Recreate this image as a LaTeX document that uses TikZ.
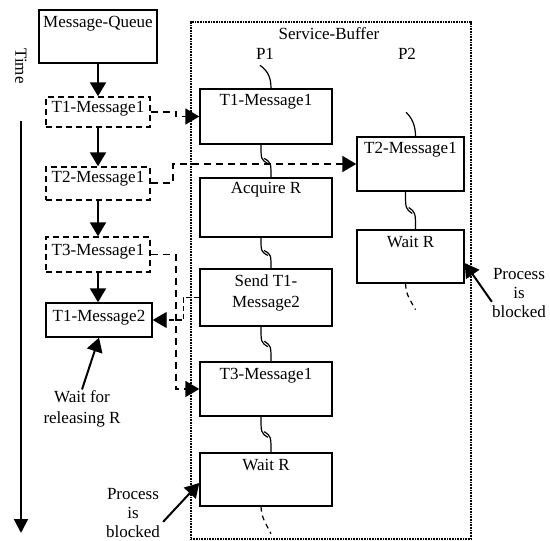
\documentclass[tikz,border=0pt]{standalone}
\usepackage{fontspec}
\setmainfont{Liberation Serif}
\usetikzlibrary{arrows.meta,calc}

% broken lifeline link between two consecutive process boxes
\newcommand\brklink[2]{%
  \coordinate (bkA) at ($(#1.south)+(-5,0)$);
  \coordinate (bkB) at ($(#2.north)+(5,0)$);
  \draw[link] (bkA) .. controls ($(bkA)!0.45!(bkA|-bkB)$) .. ($(bkA)!0.58!(bkB)+(1,0)$);
  \draw[link] ($(bkA)!0.42!(bkB)+(-1,0)$) .. controls ($(bkB)!0.45!(bkB|-bkA)$) .. (bkB);}

\begin{document}
\begin{tikzpicture}[x=1pt,y=-1pt,
  every node/.style={font=\fontsize{17}{21}\selectfont},
  box/.style={draw,line width=1.4pt,inner sep=0pt},
  dbox/.style={draw,line width=1.4pt,dash pattern=on 6pt off 4pt,inner sep=0pt},
  capt/.style={anchor=north,inner sep=0pt,align=center},
  tip/.style={-{Triangle[length=14pt,width=16pt]}},
  flow/.style={line width=2pt,tip},
  dflow/.style={line width=1.8pt,dash pattern=on 7pt off 5pt,tip},
  dflowthin/.style={line width=1.2pt,dash pattern=on 5pt off 3pt,tip},
  link/.style={line width=1.2pt},
  txt/.style={align=center,inner sep=1pt}
]
\useasboundingbox (0,0) rectangle (550,541);

% time axis
\node[rotate=-90,inner sep=0pt] (time) at (21,66) {Time};
\coordinate (tA) at (21,121);
\coordinate (tB) at (21,533);
\draw[line width=2pt,-{Triangle[length=14pt,width=14pt]}] (tA) -- (tB);

% message queue column
\node[box,minimum width=118,minimum height=53] (mq) at (98,36.5) {};
\node[capt] (tmq) at ($(mq.north)+(0,7)$) {Message-Queue};
\node[dbox,minimum width=104,minimum height=30] (l1) at (98,112) {};
\node[capt] (tl1) at ($(l1.north)+(0,4.5)$) {T1-Message1};
\node[dbox,minimum width=104,minimum height=33] (l2) at (98,183.5) {};
\node[capt] (tl2) at ($(l2.north)+(0,5)$) {T2-Message1};
\node[dbox,minimum width=104,minimum height=35] (l3) at (98,254.5) {};
\node[capt] (tl3) at ($(l3.north)+(0,8)$) {T3-Message1};
\node[box,minimum width=106,minimum height=34] (l4) at (99,320) {};
\node[capt] (tl4) at ($(l4.north)+(0,7.5)$) {T1-Message2};

\draw[flow] (mq.south) -- (l1.north);
\draw[flow] (l1.south) -- (l2.north);
\draw[flow] (l2.south) -- (l3.north);
\draw[flow] (l3.south) -- (l3.south |- l4.north);

\node[txt] (wfr) at (82,409) {Wait for\\releasing R};
\draw[flow] (wfr.north) -- (l4.south);

% service buffer
\node[draw,dash pattern=on 1pt off 0.6pt,line width=1.2pt,minimum width=280,minimum height=517,inner sep=0pt] (sb) at (331,280.5) {};
\node[inner sep=0pt] (sbt) at (329,34) {Service-Buffer};
\node[inner sep=0pt] (p1) at (265,54) {P1};
\node[inner sep=0pt] (p2) at (407,54) {P2};

% process P1
\node[box,minimum width=132,minimum height=55] (a1) at (266,116.5) {};
\node[capt] (ta1) at ($(a1.north)+(0,6)$) {T1-Message1};
\node[box,minimum width=132,minimum height=59] (a2) at (266,207.5) {};
\node[capt] (ta2) at ($(a2.north)+(0,5)$) {Acquire R};
\node[box,minimum width=132,minimum height=57] (a3) at (266,297.5) {};
\node[capt] (ta3) at ($(a3.north)+(0,6)$) {Send T1-\\Message2};
\node[box,minimum width=132,minimum height=54] (a4) at (266,389) {};
\node[capt] (ta4) at ($(a4.north)+(0,7)$) {T3-Message1};
\node[box,minimum width=132,minimum height=53] (a5) at (266,479.5) {};
\node[capt] (ta5) at ($(a5.north)+(0,7)$) {Wait R};

% process P2
\node[box,minimum width=107,minimum height=54] (b1) at (410.5,164) {};
\node[capt] (tb1) at ($(b1.north)+(0,6)$) {T2-Message1};
\node[box,minimum width=107,minimum height=53] (b2) at (410.5,256.5) {};
\node[capt] (tb2) at ($(b2.north)+(0,7)$) {Wait R};

% lifelines
\draw[link] ($(a1.north)+(-6,-23)$) .. controls ($(a1.north)+(1,-18)$) and ($(a1.north)+(5,-12)$) .. ($(a1.north)+(5,0)$);
\draw[link] ($(b1.north)+(-4.5,-24)$) .. controls ($(b1.north)+(2,-18)$) and ($(b1.north)+(5,-10)$) .. ($(b1.north)+(5,0)$);
\brklink{a1}{a2}
\brklink{a2}{a3}
\brklink{a3}{a4}
\brklink{a4}{a5}
\brklink{b1}{b2}
\draw[link,dash pattern=on 5pt off 4pt] ($(a5.south)+(-5,0)$) .. controls +(1,10) .. +(10,27);
\draw[link,dash pattern=on 5pt off 4pt] ($(b2.south)+(-5,0)$) .. controls +(1,10) .. +(10,26);

% message dispatch
\draw[dflow] (l1.east) -- ++(25,0) |- (a1.west);
\draw[dflow] ($(l2.east)+(0,-0.5)$) -- ++(22,0) |- (b1.west);
\draw[dflow] (l3.east) -- ++(25,0) |- (a4.west);
\draw[dflowthin] (a3.west) -- ++(-16,0) |- (l4.east);

% blocked annotations
\node[txt,anchor=north,font=\fontsize{17}{19}\selectfont] (pb2) at (519,267) {Process\\is\\blocked};
\draw[flow] ($(pb2.west)+(1,9)$) -- ($(b2.east)+(0,6.5)$);
\node[txt,anchor=north,font=\fontsize{17}{19}\selectfont] (pb1) at (133,487) {Process\\is\\blocked};
\draw[flow] ($(pb1.east)+(2,9)$) -- ($(a5.west)+(0,3.5)$);
\end{tikzpicture}
\end{document}
